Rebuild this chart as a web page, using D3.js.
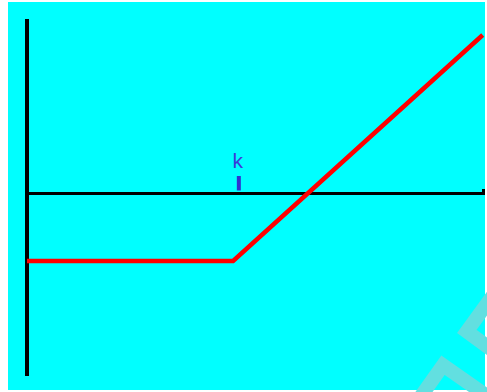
<!DOCTYPE html>
<html><head><meta charset="utf-8">
<script src="https://cdn.jsdelivr.net/npm/d3@7"></script>
<style>html,body{margin:0;padding:0;background:#fff;overflow:hidden}</style>
</head><body>
<svg id="c" width="487" height="392"></svg>
<script>
// Data (payoff of a long call: flat loss below strike, rising above)
const spot = [0, 36, 79.6];
const payoff = [-13.5, -13.5, 31.7];
const strike = 37;
const strikeLabel = "k";
const xAxisExtent = [0, 80];
const yAxisExtent = [-36.5, 34.9];

const svg = d3.select("#c");
const x = d3.scaleLinear().domain([0, 80]).range([27, 485]);
const y = d3.scaleLinear().domain([-40, 40]).range([393.5, -6.5]);

// background
svg.append("rect").attr("x", 8).attr("y", 2).attr("width", 477).attr("height", 388).attr("fill", "#00ffff");

// faint watermark
const wm = svg.append("g").attr("fill", "none").attr("stroke", "#62dfe0").attr("stroke-width", 14).attr("stroke-linejoin", "miter");
wm.append("polyline").attr("points", "502,283 466.8,331.5 499,355");
wm.append("polyline").attr("points", "414,406 443,365.3 492,399.5");

// axes
svg.append("line").attr("x1", x(0)).attr("x2", x(0)).attr("y1", y(yAxisExtent[1])).attr("y2", y(yAxisExtent[0]))
  .attr("stroke", "#000").attr("stroke-width", 4);
svg.append("line").attr("x1", x(xAxisExtent[0])).attr("x2", x(xAxisExtent[1])).attr("y1", y(0)).attr("y2", y(0))
  .attr("stroke", "#000").attr("stroke-width", 3);
svg.append("rect").attr("x", x(xAxisExtent[1]) - 3).attr("y", y(0) - 4.5).attr("width", 3).attr("height", 4).attr("fill", "#000");

// strike tick + label
svg.append("line").attr("x1", x(strike)).attr("x2", x(strike)).attr("y1", y(0) - 17.5).attr("y2", y(0) - 3)
  .attr("stroke", "#3030d0").attr("stroke-width", 4);
svg.append("text").attr("x", x(strike) - 1).attr("y", y(0) - 25.5).attr("text-anchor", "middle")
  .attr("font-family", "Liberation Sans, Arial, sans-serif").attr("font-size", 21).attr("fill", "#3a3ad8")
  .text(strikeLabel);

// payoff line
const line = d3.line().x((d, i) => x(spot[i])).y(d => y(d));
svg.append("path").datum(payoff).attr("d", line).attr("fill", "none").attr("stroke", "#ff0000")
  .attr("stroke-width", 4.5).attr("stroke-linejoin", "miter");
</script>
</body></html>
